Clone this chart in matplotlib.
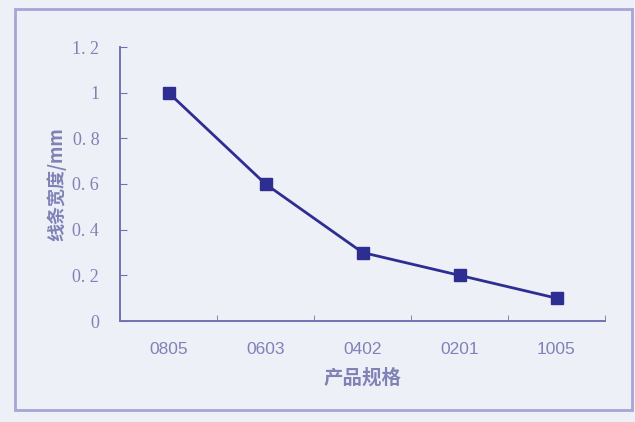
import numpy as np
import matplotlib.pyplot as plt
from matplotlib.patches import Rectangle

# data
sizes = ["0805", "0603", "0402", "0201", "1005"]
widths = [1.0, 0.6, 0.3, 0.2, 0.1]
ytick_vals = [0, 0.2, 0.4, 0.6, 0.8, 1.0, 1.2]
ytick_text = ["0", "0. 2", "0. 4", "0. 6", "0. 8", "1", "1. 2"]

plt.rcParams['font.family'] = ['Noto Sans CJK SC', 'DejaVu Sans']

bg = "#eef0f8"
txt = "#8082b6"
axcol = "#7072b4"
linecol = "#2e2e92"

fig = plt.figure(figsize=(6.35, 4.22), dpi=100, facecolor=bg)
ax = fig.add_axes([120/635, 1 - 321/422, 485/635, 274/422])
ax.set_facecolor(bg)

x = np.arange(len(sizes))
ax.plot(x, widths, color=linecol, lw=2, marker="s", ms=8, mfc=linecol, mec=linecol)

ax.set_xlim(-0.5, len(sizes) - 0.5)
ax.set_ylim(0, 1.2)

ax.set_xticks(x)
ax.set_xticklabels(sizes, family="Liberation Sans", fontsize=12.5, color=txt)
ax.tick_params(axis="x", length=0, pad=15)
ax.set_xticks(np.arange(-0.5, len(sizes)), minor=True)
ax.tick_params(axis="x", which="minor", direction="in", length=4, color=axcol)

ax.set_yticks(ytick_vals)
ax.set_yticklabels(ytick_text, family="Liberation Serif", fontsize=13, color=txt)
ax.tick_params(axis="y", direction="in", length=5, color=axcol, pad=15)

for s in ["top", "right"]:
    ax.spines[s].set_visible(False)
for s in ["left", "bottom"]:
    ax.spines[s].set_color(axcol)
    ax.spines[s].set_linewidth(1.4)

ax.set_ylabel("线条宽度/mm", fontsize=13, fontweight="bold", color=txt, labelpad=4)
ax.set_xlabel("产品规格", fontsize=14, fontweight="bold", color=txt, labelpad=8)

# outer frame
fig.patches.append(Rectangle((15/635, 1 - 410/422), 617/635, 401/422,
                             transform=fig.transFigure, fill=False,
                             edgecolor="#a4a6d6", lw=2))

fig.savefig("out.png", dpi=100, facecolor=bg)
